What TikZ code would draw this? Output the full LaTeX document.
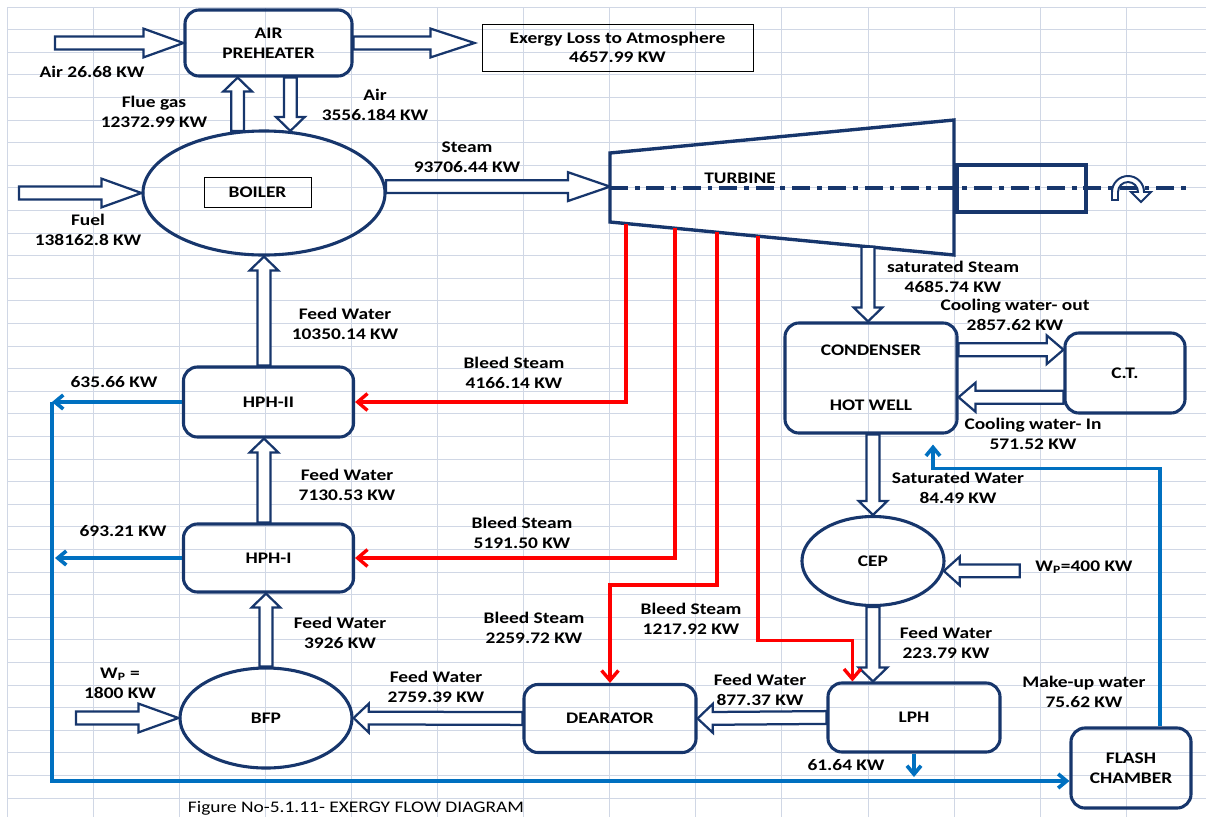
\documentclass[tikz,border=0pt]{standalone}
\usepackage{fontspec}
\setmainfont{Carlito}[FakeStretch=1.2]
\usepackage{tikz}
\usetikzlibrary{calc,arrows.meta,shapes.geometric}

\definecolor{navy}{RGB}{23,54,108}
\definecolor{drainblue}{RGB}{0,112,192}
\definecolor{sheetgrid}{RGB}{208,215,229}
\newcommand{\lbl}{\fontsize{11.5}{14}\selectfont}

% hollow block arrow from #2 to #3, head length #1
\newcommand{\flowarrow}[3][0.35cm]{%
  \coordinate (fa-s) at (#2);
  \coordinate (fa-t) at (#3);
  \coordinate (fa-h) at ($(fa-t)!#1!(fa-s)$);
  \path[flowpipe] ($(fa-s)!0.16cm!90:(fa-t)$) -- ($(fa-h)!0.16cm!-90:(fa-s)$)
    -- ($(fa-h)!0.36cm!-90:(fa-s)$) -- (fa-t) -- ($(fa-h)!0.36cm!90:(fa-s)$)
    -- ($(fa-h)!0.16cm!90:(fa-s)$) -- ($(fa-s)!0.16cm!-90:(fa-t)$) -- cycle;}

\tikzset{
  gridline/.style={sheetgrid, line width=0.7pt},
  unit/.style={draw=navy, line width=2.2pt, rounded corners=0.35cm, align=center, inner sep=0pt, font=\lbl\bfseries},
  vessel/.style={draw=navy, line width=2.2pt, ellipse, inner sep=0pt, font=\lbl\bfseries},
  tagbox/.style={draw=black, line width=0.6pt, align=center, inner sep=0pt, font=\lbl\bfseries},
  flowlbl/.style={align=center, inner sep=0pt, font=\lbl\bfseries},
  flowpipe/.style={draw=navy, fill=white, line width=1.6pt, line join=miter},
  bleed/.style={draw=red, line width=2.4pt, -{Straight Barb[length=7pt,width=12pt]}},
  drain/.style={draw=drainblue, line width=2.6pt, -{Straight Barb[length=6pt,width=10pt]}}
}

\begin{document}
\begin{tikzpicture}[x=0.025cm, y=-0.025cm]
    \useasboundingbox (0,0) rectangle (1206,817);
    % sheet grid
    \foreach \k in {0,...,13} \path[draw, gridline] ({7+86.1*\k},7) -- ({7+86.1*\k},817);
    \foreach \k in {0,...,35} \path[draw, gridline] (7,{7+22.6*\k}) -- (1206,{7+22.6*\k});

    % units
    \node[unit, minimum width=4.175cm, minimum height=1.65cm] (preheater) at (268.5,43) {AIR\\PREHEATER};
    \node[vessel, minimum width=6.05cm, minimum height=3.1cm] (boiler) at (264,193) {};
    \node[tagbox, minimum width=2.675cm, minimum height=0.75cm] (boilertag) at (257.5,192) {BOILER};
    \node[tagbox, minimum width=6.775cm, minimum height=1.175cm] (exergy) at (617.5,47.5) {Exergy Loss to Atmosphere\\4657.99 KW};
    \node[unit, minimum width=4.25cm, minimum height=1.75cm] (hph2) at (268.5,402) {HPH-II};
    \node[unit, minimum width=4.25cm, minimum height=1.7cm] (hph1) at (268.5,558) {HPH-I};
    \node[vessel, minimum width=4.3cm, minimum height=2.5cm] (bfp) at (266,718) {BFP};
    \node[unit, minimum width=4.3cm, minimum height=1.7cm] (dearator) at (610,718.5) {DEARATOR};
    \node[unit, minimum width=4.3cm, minimum height=1.725cm] (lph) at (914,717.5) {LPH};
    \node[vessel, minimum width=3.55cm, minimum height=2.225cm] (cep) at (873,561) {CEP};
    \node[unit, minimum width=4.3cm, minimum height=2.75cm] (condenser) at (871,378) {CONDENSER\\[25pt]HOT WELL};
    \node[unit, minimum width=3cm, minimum height=2cm] (ct) at (1125,373) {C.T.};
    \node[unit, minimum width=3cm, minimum height=2cm] (flash) at (1131,768) {FLASH\\CHAMBER};

    % turbine
    \coordinate (T1) at (610,153);
    \coordinate (T2) at (954,120);
    \coordinate (T3) at (954,255);
    \coordinate (T4) at (610,222);
    \coordinate (tin) at (610,188);
    \path[draw=navy, line width=2.4pt, line join=miter] (T1) -- (T2) -- (T3) -- (T4) -- cycle;
    \path[draw=navy, line width=2.2pt] (957,165) rectangle (1086,212);
    \path[draw=navy, line width=2.6pt, dash pattern=on 0.45cm off 0.17cm on 0.12cm off 0.17cm] (tin) -- (1190,188);
    \node[flowlbl] (turblbl) at (740,178) {TURBINE};
    % shaft rotation
    \path[draw=navy, fill=white, line width=1.4pt] (1112,200) -- (1112,192) arc[start angle=180, end angle=0, radius=0.4cm]
      -- (1151,192) -- (1141,202) -- (1131,192) -- (1138,192) arc[start angle=0, end angle=180, radius=0.25cm] -- (1118,200) -- cycle;

    % tappings on the turbine casing
    \coordinate (b1) at ($(T4)!0.0465!(T3)$);
    \coordinate (b2) at ($(T4)!0.189!(T3)$);
    \coordinate (b3) at ($(T4)!0.311!(T3)$);
    \coordinate (b4) at ($(T4)!0.430!(T3)$);
    \coordinate (sst) at ($(T4)!0.75!(T3)$);

    % main flows
    \coordinate (airin) at (55,43);
    \coordinate (fuelin) at (19,193);
    \coordinate (wpin) at (76,718);
    \coordinate (exhtip) at ($(preheater.east -| exergy.west)+(-7,0)$);
    \coordinate (wpcep) at ($(cep.-8)+(76,0)$);
    \coordinate (cwo) at ($(condenser.north east)!0.25!(condenser.south east)$);
    \coordinate (cwi) at ($(condenser.north east)!0.67!(condenser.south east)$);
    \flowarrow[1cm]{airin}{preheater.west}
    \flowarrow{boiler.113}{preheater.south -| boiler.113}
    \flowarrow{preheater.south -| boiler.67}{boiler.67}
    \flowarrow[1cm]{fuelin}{boiler.west}
    \flowarrow[1.1cm]{preheater.east}{exhtip}
    \flowarrow[1.05cm]{boiler.3}{boiler.3 -| tin}
    \flowarrow{hph2.north -| boiler.south}{boiler.south}
    \flowarrow{hph1.north -| boiler.south}{hph2.south -| boiler.south}
    \flowarrow{bfp.north}{hph1.south -| bfp.north}
    \flowarrow[1cm]{wpin}{bfp.west}
    \flowarrow[0.38cm]{dearator.west}{bfp.east}
    \flowarrow[0.38cm]{lph.west}{dearator.east}
    \flowarrow{cep.south}{lph.north -| cep.south}
    \flowarrow[0.4cm]{wpcep}{cep.-8}
    \flowarrow{condenser.south -| cep.north}{cep.north}
    \flowarrow{sst}{condenser.north -| sst}
    \flowarrow[0.42cm]{cwo}{ct.west |- cwo}
    \flowarrow[0.42cm]{ct.west |- cwi}{cwi}

    % bleed steam
    \path[bleed] (b1) |- (hph2.east);
    \path[bleed] (b2) |- (hph1.east);
    \path[bleed] (b3) |- ($(dearator.north)+(0,-98)$) -- (dearator.north);
    \coordinate (b4e) at ($(lph.north west)+(26,0)$);
    \path[bleed] (b4) |- ($(b4e)+(0,-41)$) -- (b4e);

    % drains
    \coordinate (dx) at (52,0);
    \coordinate (flin) at ($(flash.west)+(0,13)$);
    \path[drain] (hph2.west) -- (hph2.west -| dx);
    \path[drain] (hph1.west) -- ($(hph1.west -| dx)+(3,0)$);
    \path[drain] (hph2.west -| dx) |- (flin);
    \path[drain] (lph.south) -- ($(lph.south |- flin)+(0,-4)$);
    \coordinate (mu) at ($(flash.north)+(29,0)$);
    \coordinate (mut) at ($(condenser.south)+(62,10)$);
    \path[drain] (mu) |- ($(mut)+(0,24)$) -- (mut);

    % labels
    \node[flowlbl] (airlbl) at (92,72) {Air 26.68 KW};
    \node[flowlbl] (fluelbl) at (154,112) {Flue gas\\12372.99 KW};
    \node[flowlbl] (airdnlbl) at (375,105) {Air\\3556.184 KW};
    \node[flowlbl] (fuellbl) at (88,230) {Fuel\\138162.8 KW};
    \node[flowlbl] (steamlbl) at (467,157) {Steam\\93706.44 KW};
    \node[flowlbl] (satsteamlbl) at (953,277) {saturated Steam\\4685.74 KW};
    \node[flowlbl] (cwolbl) at (1015,315) {Cooling water- out\\2857.62 KW};
    \node[flowlbl] (cwilbl) at (1033,434) {Cooling water- In\\571.52 KW};
    \node[flowlbl] (satwlbl) at (958,488) {Saturated Water\\84.49 KW};
    \node[flowlbl] (wpcelbl) at (1084,567) {W\textsubscript{P}=400 KW};
    \node[flowlbl] (fw1lbl) at (345,324) {Feed Water\\10350.14 KW};
    \node[flowlbl] (fw2lbl) at (347,485) {Feed Water\\7130.53 KW};
    \node[flowlbl] (fw3lbl) at (340,633) {Feed Water\\3926 KW};
    \node[flowlbl] (wplbl) at (120,683) {W\textsubscript{P} =\\1800 KW};
    \node[flowlbl] (fw4lbl) at (436,687) {Feed Water\\2759.39 KW};
    \node[flowlbl] (fw5lbl) at (760,690) {Feed Water\\877.37 KW};
    \node[flowlbl] (fw6lbl) at (946,643) {Feed Water\\223.79 KW};
    \node[flowlbl] (bl1lbl) at (514,373) {Bleed Steam\\4166.14 KW};
    \node[flowlbl] (bl2lbl) at (522,533) {Bleed Steam\\5191.50 KW};
    \node[flowlbl] (bl3lbl) at (534,628) {Bleed Steam\\2259.72 KW};
    \node[flowlbl] (bl4lbl) at (691,619) {Bleed Steam\\1217.92 KW};
    \node[flowlbl] (dr1lbl) at (114,382) {635.66 KW};
    \node[flowlbl] (dr2lbl) at (123,531) {693.21 KW};
    \node[flowlbl] (dr3lbl) at (846,765) {61.64 KW};
    \node[flowlbl] (mulbl) at (1084,692) {Make-up water\\75.62 KW};
    % caption
    \node[inner sep=0pt, font=\lbl] (caption) at (356,808) {Figure No-5.1.11- EXERGY FLOW DIAGRAM};
\end{tikzpicture}
\end{document}
